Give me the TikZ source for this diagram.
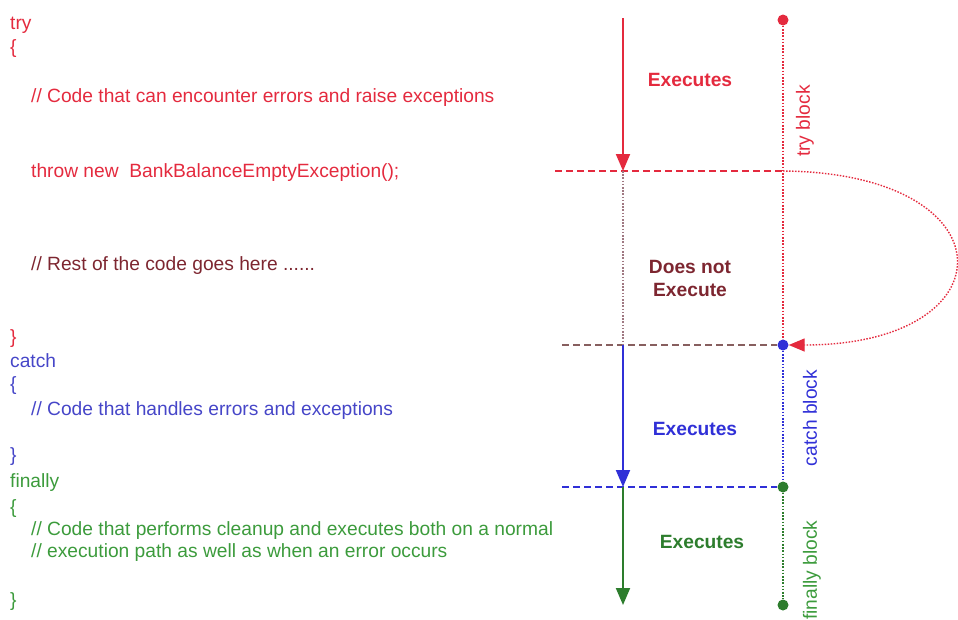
\documentclass[tikz,border=0pt]{standalone}
\usepackage{fontspec}
\setmainfont{Liberation Sans}
\usetikzlibrary{arrows.meta}
\definecolor{tryred}{RGB}{228,42,62}
\definecolor{darkred}{RGB}{125,38,48}
\definecolor{catchblue}{RGB}{48,48,215}
\definecolor{codeblue}{RGB}{70,70,200}
\definecolor{fingreen}{RGB}{45,125,45}
\definecolor{codegreen}{RGB}{60,155,60}
\definecolor{greybrown}{RGB}{135,95,95}
\definecolor{pinkgrey}{RGB}{160,120,130}
\begin{document}
\begin{tikzpicture}[x=1pt,y=-1pt,
  code/.style={anchor=base west,inner sep=0pt,font=\fontsize{19.2}{23}\selectfont},
  lbl/.style={inner sep=0pt,align=center,font=\fontsize{19.2}{23}\selectfont\bfseries},
  blk/.style={inner sep=0pt,rotate=90,font=\fontsize{19.2}{23}\selectfont},
  dot/.style={circle,fill,inner sep=0pt,minimum size=11pt},
  flow/.style={line width=1.9pt,-{Triangle[length=17pt,width=14pt]}},
  dashln/.style={line width=1.7pt,dash pattern=on 7pt off 4pt},
  dotln/.style={line width=1.5pt,dash pattern=on 1.6pt off 1.6pt}]
\useasboundingbox (0,0) rectangle (958,619);
% code listing
\node[code,text=tryred] (t1) at (10,29) {try};
\node[code,text=tryred] (t2) at (10,53) {\{};
\node[code,text=tryred] (t3) at (31,102) {// Code that can encounter errors and raise exceptions};
\node[code,text=tryred] (t4) at (31,177) {throw new\ \ BankBalanceEmptyException();};
\node[code,text=darkred] (t5) at (31,270) {// Rest of the code goes here ......};
\node[code,text=tryred] (t6) at (10,343) {\}};
\node[code,text=codeblue] (c1) at (10,367) {catch};
\node[code,text=codeblue] (c2) at (10,390) {\{};
\node[code,text=codeblue] (c3) at (31,415) {// Code that handles errors and exceptions};
\node[code,text=codeblue] (c4) at (10,461) {\}};
\node[code,text=codegreen] (f1) at (10,487) {finally};
\node[code,text=codegreen] (f2) at (10,513) {\{};
\node[code,text=codegreen] (f3) at (31,535) {// Code that performs cleanup and executes both on a normal};
\node[code,text=codegreen] (f4) at (31,557) {// execution path as well as when an error occurs};
\node[code,text=codegreen] (f5) at (10,606) {\}};
% block markers
\node[dot,tryred] (tdot) at (783,20) {};
\node[dot,catchblue] (cdot) at (783,345) {};
\node[dot,fingreen] (fdot) at (783,487) {};
\node[dot,fingreen] (edot) at (783,605) {};
\coordinate (tx) at (783,171);
\coordinate (a0) at (623,18);
\coordinate (a1) at (623,171);
\coordinate (a2) at (623,345);
\coordinate (a3) at (623,487);
\coordinate (a4) at (623,605);
\coordinate (l1) at (555,171);
\coordinate (l2) at (562,345);
\coordinate (l3) at (562,487);
% block lines
\draw[dotln,tryred] (tdot) -- (cdot);
\draw[dotln,catchblue] (cdot) -- (fdot);
\draw[dotln,fingreen] (fdot) -- (edot);
% horizontal separators
\draw[dashln,tryred] (l1) -- (tx);
\draw[dashln,greybrown] (l2) -- (cdot.west);
\draw[dashln,catchblue] (l3) -- (fdot.west);
% flow arrows
\draw[dotln,pinkgrey] (a1) -- (a2);
\draw[flow,tryred] (a0) -- (a1);
\draw[flow,catchblue] (a2) -- (a3);
\draw[flow,fingreen] (a3) -- (a4);
% exception jump
\draw[tryred,line width=1.4pt,dash pattern=on 1.5pt off 1.5pt,-{Triangle[length=16pt,width=13pt]}]
  (tx) .. controls (1012,173) and (1012,345) .. (cdot.east);
% labels
\node[lbl,text=tryred] (e1) at (690,80) {Executes};
\node[lbl,text=darkred] (e2) at (690,278) {Does not\\Execute};
\node[lbl,text=catchblue] (e3) at (695,429) {Executes};
\node[lbl,text=fingreen] (e4) at (702,542) {Executes};
\node[blk,text=tryred] (b1) at (805,121) {try block};
\node[blk,text=catchblue] (b2) at (810,418) {catch block};
\node[blk,text=codegreen] (b3) at (812,570) {finally block};
\end{tikzpicture}
\end{document}
